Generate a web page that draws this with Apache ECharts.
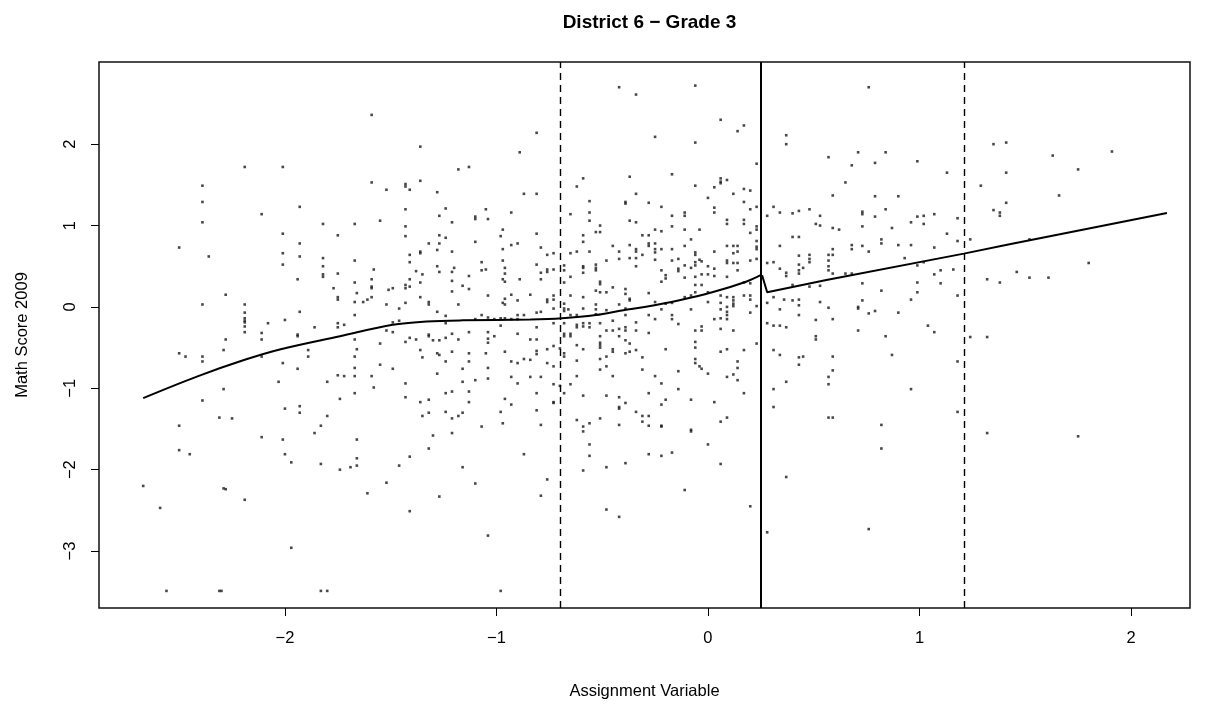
<!DOCTYPE html>
<html>
<head>
<meta charset="utf-8">
<script src="https://cdn.jsdelivr.net/npm/echarts@6.0.0/dist/echarts.min.js"></script>
<style>
html,body{margin:0;padding:0;background:#fff;}
#chart{width:1205px;height:710px;}
</style>
</head>
<body>
<div id="chart"></div>
<script>
// ---- Data ----
const chartTitle = "District 6 \u2212 Grade 3";
const xTitle = "Assignment Variable";
const yTitle = "Math Score 2009";
const xTicks = [-2, -1, 0, 1, 2];
const yTicks = [-3, -2, -1, 0, 1, 2];
const cutoff = 0.254;
const bandEdges = [-0.700, 1.209];

// scatter points [assignment, score]
const pointsFarLeft = [[-2.19,1.72],[-2.39,1.49],[-2.39,1.29],[-2.11,1.14],[-2.39,1.04],[-2.50,0.73],[-2.36,0.62],[-2.28,0.15],[-2.39,0.03],[-2.19,0.03],[-2.19,-0.07],[-2.19,-0.14],[-2.19,-0.17],[-2.19,-0.19],[-2.19,-0.24],[-2.19,-0.31],[-2.08,-0.20],[-2.11,-0.32],
[-2.28,-0.40],[-2.11,-0.40],[-2.50,-0.57],[-2.47,-0.61],[-2.39,-0.61],[-2.39,-0.67],[-2.29,-0.53],[-2.11,-0.61],[-2.03,-0.92],[-2.29,-1.01],[-2.39,-1.15],[-2.31,-1.36],[-2.25,-1.37],[-2.50,-1.46],[-2.11,-1.60],[-2.50,-1.76],[-2.45,-1.81],[-2.67,-2.20],[-2.29,-2.23],[-2.28,-2.24],[-2.19,-2.37],[-2.59,-2.47],[-2.56,-3.49],[-2.31,-3.49],[-2.30,-3.49]];

const pointsLeft = [[-1.59,2.36],[-1.36,1.97],[-2.01,1.72],[-1.18,1.69],[-1.59,1.53],[-1.52,1.44],[-1.43,1.51],[-1.43,1.48],[-1.41,1.44],[-1.36,1.55],[-1.28,1.41],[-1.93,1.23],[-1.43,1.20],[-1.24,1.21],[-1.27,1.12],[-1.82,1.02],[-1.67,1.02],[-1.55,1.06],[-1.21,1.04],[-2.01,0.90],[-1.75,0.88],[-1.43,0.99],[-1.43,0.87],[-1.27,0.88],[-1.24,0.85],[-1.93,0.78],[-1.32,0.78],[-1.27,0.78],[-2.01,0.66],[-1.93,0.62],[-1.82,0.60],[-1.41,0.64],[-1.36,0.68],[-1.36,0.66],[-1.28,0.70],[-1.21,0.68],[-2.01,0.52],[-1.82,0.50],[-1.67,0.57],[-1.41,0.55],[-1.28,0.50],[-1.82,0.40],[-1.82,0.37],[-1.75,0.41],[-1.58,0.46],[-1.38,0.44],[-1.35,0.40],[-1.27,0.43],[-1.21,0.43],[-1.20,0.48],[-1.94,0.34],[-1.67,0.30],[-1.59,0.34],[-1.41,0.34],[-1.36,0.30],[-1.21,0.32],[-1.77,0.23],[-1.59,0.25],[-1.59,0.23],[-1.51,0.21],[-1.49,0.23],[-1.43,0.27],[-1.43,0.23],[-1.41,0.25],[-1.66,0.17],[-1.21,0.19],[-1.75,0.12],[-1.75,0.09],[-1.67,0.06],[-1.63,0.06],[-1.61,0.09],[-1.59,0.12],[-1.36,0.12],[-1.32,0.06],[-1.32,0.03],[-1.52,0.03],[-1.43,0.05],[-1.18,0.03],[-1.93,-0.06],[-1.46,-0.02],[-1.28,-0.06],[-1.67,-0.10],[-1.24,-0.11],[-2.00,-0.16],[-1.86,-0.25],[-1.75,-0.20],[-1.75,-0.25],[-1.72,-0.22],[-1.49,-0.19],[-1.46,-0.17],[-1.52,-0.29],[-1.49,-0.31],[-1.24,-0.20],[-1.21,-0.33],[-1.94,-0.34],[-1.32,-0.34],
[-1.94,-0.36],[-1.67,-0.40],[-1.55,-0.45],[-1.43,-0.43],[-1.41,-0.38],[-1.38,-0.40],[-1.32,-0.36],[-1.30,-0.41],[-1.27,-0.41],[-1.24,-0.38],[-1.18,-0.40],[-1.89,-0.53],[-1.89,-0.61],[-1.66,-0.52],[-1.67,-0.61],[-1.36,-0.53],[-1.35,-0.62],[-1.28,-0.57],[-1.27,-0.59],[-1.21,-0.55],[-2.01,-0.69],[-1.94,-0.76],[-1.67,-0.75],[-1.55,-0.71],[-1.49,-0.76],[-1.24,-0.67],[-1.28,-0.82],[-1.80,-0.92],[-1.75,-0.84],[-1.72,-0.85],[-1.67,-0.85],[-1.59,-0.85],[-1.58,-0.99],[-1.43,-0.94],[-1.67,-1.06],[-1.24,-1.06],[-1.21,-1.04],[-1.43,-1.11],[-1.74,-1.13],[-1.36,-1.17],[-1.32,-1.14],[-2.00,-1.25],[-1.93,-1.22],[-1.93,-1.30],[-1.80,-1.34],[-1.35,-1.34],[-1.32,-1.30],[-1.24,-1.29],[-1.21,-1.37],[-1.18,-1.34],[-1.83,-1.46],[-1.86,-1.55],[-1.30,-1.58],[-1.21,-1.55],[-2.01,-1.63],[-1.66,-1.63],[-1.32,-1.74],[-2.00,-1.81],[-1.97,-1.91],[-1.83,-1.93],[-1.74,-2.00],[-1.69,-1.97],[-1.66,-1.95],[-1.66,-1.86],[-1.46,-1.95],[-1.41,-1.84],[-1.52,-2.16],[-1.61,-2.29],[-1.27,-2.33],[-1.41,-2.51],[-1.97,-2.96],[-1.83,-3.49],[-1.80,-3.49]];

const pointsMidLeft = [[-0.42,2.70],[-0.34,2.61],[-0.81,2.14],[-0.89,1.90],[-1.13,1.72],[-0.59,1.58],[-0.62,1.48],[-0.37,1.60],[-0.87,1.39],[-0.81,1.39],[-0.34,1.39],[-0.56,1.30],[-0.39,1.29],[-0.39,1.27],[-1.05,1.20],[-0.93,1.16],[-1.10,1.11],[-1.10,1.08],[-1.04,1.08],[-0.65,1.14],[-0.56,1.16],[-0.56,1.06],[-0.37,1.06],[-0.34,1.04],[-0.51,1.00],[-0.97,0.95],[-0.98,0.87],[-0.81,0.90],[-0.53,0.92],[-0.51,0.92],[-0.59,0.88],[-0.31,0.88],[-1.10,0.80],[-0.93,0.76],[-0.90,0.78],[-0.97,0.71],[-0.79,0.73],[-0.59,0.80],[-0.76,0.64],[-0.73,0.66],[-0.65,0.66],[-0.62,0.68],[-0.56,0.68],[-0.45,0.75],[-0.42,0.68],[-0.37,0.76],[-0.34,0.71],[-0.34,0.68],[-0.34,0.60],[-0.31,0.64],[-0.37,0.60],[-0.42,0.59],[-1.07,0.55],[-0.97,0.57],[-0.81,0.52],[-0.48,0.57],[-0.59,0.50],[-0.59,0.48],[-0.53,0.52],[-0.53,0.48],[-0.53,0.45],[-0.34,0.50],[-1.07,0.45],[-1.05,0.46],[-0.96,0.48],[-0.96,0.41],[-0.79,0.42],[-0.76,0.46],[-0.76,0.43],[-0.73,0.46],[-0.68,0.51],[-0.68,0.45],[-0.59,0.42],[-1.13,0.38],[-0.97,0.34],[-0.96,0.31],[-0.89,0.34],[-0.79,0.34],[-0.68,0.30],[-0.65,0.37],[-0.51,0.31],[-0.51,0.28],[-0.45,0.24],[-1.16,0.26],[-1.13,0.22],[-0.53,0.20],[-0.51,0.18],[-0.48,0.18],[-0.39,0.22],[-0.39,0.16],[-1.04,0.14],[-0.93,0.15],[-0.96,0.10],[-0.96,0.03],[-0.97,0.05],[-0.90,0.08],[-0.84,0.15],[-0.76,0.09],[-0.76,0.06],[-0.73,0.14],[-0.73,0.09],[-0.65,0.14],[-0.59,0.12],[-0.68,0.04],[-0.53,0.03],[-0.37,0.10],[-0.37,0.08],[-0.42,0.03],[-0.39,-0.02],[-0.81,-0.07],[-0.79,-0.06],[-0.73,-0.02],[-0.68,-0.02],[-0.68,-0.05],[-0.66,-0.03],[-0.59,-0.02],[-0.53,-0.03],[-0.48,-0.04],[-1.07,-0.10],[-1.04,-0.13],[-0.90,-0.10],[-0.87,-0.10],[-1.10,-0.15],[-1.01,-0.15],[-0.98,-0.14],[-0.96,-0.14],[-0.93,-0.15],[-0.90,-0.15],[-0.65,-0.10],[-0.62,-0.10],[-0.53,-0.09],[-0.45,-0.17],[-0.39,-0.10],[-0.73,-0.20],[-0.68,-0.20],[-0.62,-0.22],[-0.59,-0.20],[-0.56,-0.20],[-0.51,-0.20],[-0.34,-0.19],[-1.13,-0.31],[-1.04,-0.31],[-0.98,-0.23],[-0.81,-0.25],[-0.62,-0.25],[-0.59,-0.24],[-0.56,-0.25],[-0.48,-0.29],[-0.45,-0.29],[-0.42,-0.27],[-0.39,-0.25],[-0.39,-0.29],[-0.34,-0.29],[-0.68,-0.33],[-0.65,-0.33],[-0.90,-0.33],
[-1.04,-0.39],[-1.04,-0.44],[-1.01,-0.36],[-0.84,-0.40],[-0.81,-0.40],[-0.68,-0.36],[-0.65,-0.36],[-0.51,-0.36],[-0.42,-0.36],[-0.39,-0.41],[-0.37,-0.45],[-1.13,-0.57],[-1.05,-0.57],[-0.96,-0.55],[-0.81,-0.54],[-0.81,-0.58],[-0.76,-0.52],[-0.73,-0.48],[-0.70,-0.51],[-0.68,-0.57],[-0.68,-0.61],[-0.62,-0.47],[-0.59,-0.52],[-0.51,-0.44],[-0.51,-0.47],[-0.51,-0.50],[-0.45,-0.52],[-0.45,-0.55],[-0.39,-0.57],[-0.37,-0.55],[-0.34,-0.53],[-0.31,-0.62],[-0.48,-0.61],[-1.13,-0.67],[-0.93,-0.67],[-0.90,-0.69],[-0.87,-0.64],[-0.84,-0.65],[-0.76,-0.69],[-0.73,-0.73],[-0.62,-0.66],[-0.51,-0.64],[-0.48,-0.73],[-1.16,-0.76],[-1.04,-0.75],[-0.51,-0.77],[-0.31,-0.77],[-1.10,-0.90],[-1.04,-0.88],[-1.16,-0.92],[-0.93,-0.86],[-0.90,-0.94],[-0.84,-0.86],[-0.79,-0.86],[-0.73,-0.95],[-0.70,-0.97],[-0.65,-0.95],[-0.62,-0.85],[-0.45,-0.85],[-1.13,-1.04],[-0.81,-1.06],[-0.68,-1.06],[-0.59,-1.09],[-0.48,-1.09],[-0.42,-1.11],[-1.13,-1.17],[-0.96,-1.13],[-0.93,-1.20],[-0.73,-1.17],[-0.73,-1.18],[-0.42,-1.23],[-0.42,-1.25],[-0.39,-1.18],[-1.16,-1.30],[-0.98,-1.29],[-0.81,-1.27],[-0.34,-1.29],[-0.31,-1.34],[-0.62,-1.39],[-0.56,-1.43],[-0.51,-1.37],[-1.07,-1.47],[-0.97,-1.43],[-0.79,-1.45],[-0.59,-1.47],[-0.59,-1.53],[-0.42,-1.45],[-0.31,-1.41],[-0.56,-1.69],[-0.56,-1.83],[-0.87,-1.81],[-0.39,-1.92],[-1.16,-1.97],[-0.48,-1.97],[-0.59,-2.01],[-1.10,-2.17],[-0.76,-2.12],[-0.79,-2.32],[-0.48,-2.49],[-0.42,-2.58],[-1.04,-2.81],[-0.98,-3.49]];

const pointsCenter = [[-0.06,2.72],[0.06,2.30],[0.14,2.16],[0.17,2.23],[-0.25,2.09],[-0.06,2.02],[0.37,2.11],[0.37,2.00],[0.23,1.76],[-0.17,1.63],[-0.06,1.49],[0.03,1.47],[0.06,1.58],[0.06,1.54],[0.06,1.52],[0.09,1.56],[0.17,1.45],[0.20,1.43],[0.00,1.34],[0.12,1.39],[-0.28,1.28],[-0.22,1.23],[0.03,1.22],[0.03,1.16],[0.17,1.29],[0.20,1.20],[0.23,1.23],[0.31,1.23],[0.28,1.12],[0.34,1.16],[0.40,1.15],[0.43,1.18],[0.48,1.20],[0.53,1.12],[-0.17,1.12],[-0.11,1.16],[-0.11,1.12],[0.09,1.07],[0.09,1.02],[0.17,1.07],[0.17,1.02],[-0.17,0.99],[-0.11,0.95],[-0.25,0.95],[-0.22,0.93],[-0.04,0.95],[0.20,0.91],[0.23,0.99],[0.23,0.95],[0.51,1.02],[0.53,1.00],[-0.28,0.88],[-0.28,0.78],[-0.28,0.75],[-0.25,0.78],[-0.25,0.71],[-0.25,0.67],[-0.22,0.71],[-0.17,0.71],[-0.11,0.75],[-0.08,0.83],[0.03,0.68],[0.09,0.75],[0.12,0.75],[0.14,0.75],[0.12,0.66],[0.14,0.68],[0.23,0.81],[0.23,0.74],[0.23,0.71],[0.23,0.59],[0.40,0.86],[0.43,0.86],[0.34,0.75],[-0.25,0.58],[-0.17,0.57],[-0.06,0.67],[-0.06,0.64],[-0.14,0.59],[-0.11,0.51],[-0.06,0.55],[-0.06,0.51],[-0.04,0.58],[-0.03,0.56],[0.09,0.57],[0.09,0.54],[0.12,0.54],[0.14,0.54],[0.20,0.57],[0.28,0.54],[0.31,0.55],[0.43,0.63],[0.43,0.52],[0.48,0.64],[0.48,0.59],[0.48,0.55],[-0.22,0.45],[-0.14,0.47],[-0.14,0.44],[-0.08,0.48],[0.00,0.50],[0.03,0.47],[-0.03,0.40],[0.00,0.40],[0.14,0.45],[0.34,0.47],[0.37,0.42],[0.37,0.38],[0.43,0.45],[0.43,0.41],[0.45,0.48],[-0.20,0.39],[-0.20,0.35],[-0.22,0.31],[-0.11,0.36],[-0.06,0.37],[0.03,0.38],[0.09,0.37],[0.17,0.30],[0.20,0.29],[-0.06,0.27],[-0.03,0.27],[0.40,0.27],[0.48,0.25],[0.53,0.26],[-0.28,0.17],[-0.11,0.12],[-0.08,0.14],[-0.06,0.18],[0.00,0.18],[0.06,0.14],[0.09,0.12],[0.12,0.12],[0.12,0.08],[0.17,0.14],[0.20,0.14],[0.20,0.09],[0.31,0.12],[0.00,0.06],[0.06,0.05],[0.12,0.04],[0.12,0.01],[-0.25,0.06],[-0.20,0.04],[-0.17,0.05],[0.36,0.09],[0.40,0.08],[0.43,0.09],[0.43,0.02],[0.53,0.06],[-0.22,-0.03],[-0.08,-0.03],[0.06,-0.03],[0.09,0.00],[0.09,-0.06],[0.09,-0.10],[0.23,0.01],[0.28,0.05],[0.34,-0.03],[-0.28,-0.10],[-0.25,-0.15],[-0.17,-0.10],[-0.17,-0.15],[-0.14,-0.21],[0.03,-0.15],[0.06,-0.14],[0.09,-0.15],[0.20,-0.07],[0.43,-0.10],[0.51,-0.16],[0.28,-0.20],[0.31,-0.23],[0.34,-0.23],[0.37,-0.25],[-0.06,-0.29],[-0.03,-0.29],[-0.03,-0.24],[0.06,-0.27],[0.12,-0.29],[-0.28,-0.32],
[-0.06,-0.43],[-0.06,-0.50],[0.23,-0.45],[-0.20,-0.52],[0.06,-0.55],[0.09,-0.52],[0.17,-0.53],[0.31,-0.53],[0.34,-0.59],[0.43,-0.62],[0.45,-0.61],[0.43,-0.71],[0.51,-0.36],[0.51,-0.40],[-0.06,-0.64],[-0.06,-0.69],[-0.04,-0.73],[-0.03,-0.76],[0.00,-0.82],[0.14,-0.67],[0.14,-0.75],[-0.14,-0.79],[-0.25,-0.85],[-0.22,-0.94],[0.09,-0.86],[0.12,-0.83],[0.14,-0.90],[-0.28,-1.06],[-0.14,-1.01],[0.17,-1.06],[0.31,-1.01],[0.37,-0.92],[-0.22,-1.20],[-0.20,-1.14],[-0.08,-1.14],[0.03,-1.17],[0.31,-1.23],[-0.28,-1.34],[-0.28,-1.46],[-0.22,-1.46],[-0.22,-1.47],[-0.08,-1.51],[-0.08,-1.53],[0.06,-1.41],[0.09,-1.36],[0.00,-1.69],[-0.28,-1.81],[-0.22,-1.83],[-0.17,-1.79],[0.06,-1.93],[0.37,-2.09],[-0.11,-2.25],[0.20,-2.45],[0.28,-2.77]];

const pointsRight = [[0.76,2.70],[0.71,1.90],[0.84,1.90],[0.57,1.84],[0.68,1.74],[0.79,1.77],[0.99,1.79],[1.13,1.65],[1.35,2.00],[1.41,2.02],[1.41,1.65],[0.65,1.53],[1.29,1.49],[0.59,1.37],[0.79,1.36],[0.90,1.36],[1.41,1.28],[0.73,1.17],[0.73,1.14],[0.84,1.20],[0.79,1.11],[0.99,1.11],[1.02,1.12],[1.07,1.14],[1.18,1.09],[1.35,1.19],[1.38,1.16],[1.38,1.12],[0.96,1.04],[1.02,1.02],[0.59,0.97],[0.62,0.95],[0.73,0.99],[0.87,0.97],[1.13,0.90],[0.82,0.83],[0.82,0.78],[1.18,0.81],[1.24,0.83],[0.68,0.76],[0.68,0.71],[0.73,0.75],[0.76,0.68],[0.90,0.76],[0.96,0.76],[1.07,0.73],[0.59,0.71],[0.59,0.64],[0.57,0.64],[0.57,0.57],[0.57,0.50],[0.57,0.45],[0.93,0.60],[0.99,0.51],[1.02,0.55],[0.59,0.41],[0.65,0.41],[0.68,0.41],[1.10,0.45],[1.16,0.46],[1.07,0.40],[0.73,0.29],[0.99,0.30],[1.10,0.29],[1.32,0.34],[1.38,0.30],[0.82,0.20],[0.99,0.18],[1.18,0.14],[0.96,0.09],[0.73,0.08],[0.57,-0.01],[0.71,0.00],[0.71,-0.02],[0.76,-0.08],[0.79,-0.05],[0.90,-0.07],[0.59,-0.15],[1.04,-0.23],[1.07,-0.31],[0.71,-0.29],
[0.84,-0.36],[1.24,-0.37],[1.32,-0.37],[0.59,-0.61],[0.87,-0.59],[1.18,-0.67],[0.59,-0.78],[0.57,-0.86],[0.57,-0.95],[0.96,-1.01],[0.57,-1.36],[0.59,-1.36],[1.18,-1.29],[0.82,-1.45],[1.32,-1.55],[0.82,-1.74],[0.76,-2.73],
[1.63,1.86],[1.91,1.91],[1.75,1.69],[1.66,1.37],[1.52,0.83],[1.80,0.54],[1.46,0.43],[1.52,0.36],[1.61,0.36],[1.75,-1.59]];

// fitted curves on each side of the cutoff
const fitLeft = [[-2.67,-1.12],[-2.41,-0.85],[-2.19,-0.65],[-2.02,-0.52],[-1.74,-0.36],[-1.49,-0.22],[-1.33,-0.18],[-1.16,-0.165],[-0.84,-0.155],[-0.69,-0.14],[-0.53,-0.10],[-0.40,-0.04],[-0.30,0.00],[-0.14,0.08],[0.02,0.18],[0.18,0.31],[0.254,0.397]];
const fitRight = [[0.256,0.39],[0.28,0.18],[0.56,0.33],[1.21,0.655],[1.42,0.766],[2.17,1.155]];

// ---- Chart ----
const FONT = "'Liberation Sans', Arial, Helvetica, sans-serif";
const minus = v => String(v).replace('-', '\u2212');
const allPoints = [].concat(pointsFarLeft, pointsLeft, pointsMidLeft, pointsCenter, pointsRight);

const chart = echarts.init(document.getElementById('chart'), null, {renderer: 'canvas'});
chart.setOption({
  animation: false,
  backgroundColor: '#ffffff',
  title: {
    text: chartTitle,
    left: 644.5, top: 8, textAlign: 'center',
    textStyle: {fontFamily: FONT, fontSize: 19, fontWeight: 'bold', color: '#000'}
  },
  grid: {left: 99, top: 62, width: 1091, height: 546, show: true,
         borderColor: '#111', borderWidth: 1.5, backgroundColor: 'transparent'},
  xAxis: {
    type: 'value', min: -2.879, max: 2.279, position: 'bottom',
    name: xTitle, nameLocation: 'middle', nameGap: 75,
    nameTextStyle: {fontFamily: FONT, fontSize: 16.5, color: '#000'},
    axisLine: {show: false, onZero: false},
    splitLine: {show: false},
    axisTick: {show: true, length: 8, customValues: xTicks, lineStyle: {color: '#000', width: 1}},
    axisLabel: {customValues: xTicks, formatter: minus, margin: 22,
                fontFamily: FONT, fontSize: 16.5, color: '#000'}
  },
  yAxis: {
    type: 'value', min: -3.70, max: 3.01, position: 'left',
    name: yTitle, nameLocation: 'middle', nameGap: 68, nameRotate: 90,
    nameTextStyle: {fontFamily: FONT, fontSize: 16.5, color: '#000'},
    axisLine: {show: false, onZero: false},
    splitLine: {show: false},
    axisTick: {show: true, length: 8, customValues: yTicks, lineStyle: {color: '#000', width: 1}},
    axisLabel: {customValues: yTicks, formatter: minus, rotate: 90, margin: 20,
                fontFamily: FONT, fontSize: 16.5, color: '#000'}
  },
  series: [
    {
      type: 'scatter', data: allPoints, symbol: 'rect', symbolSize: 2.6,
      itemStyle: {color: '#1a1a1a'}, silent: true, z: 2
    },
    {
      type: 'line', data: fitLeft, showSymbol: false, symbol: 'none', smooth: 0.35,
      lineStyle: {color: '#000', width: 2}, silent: true, z: 4
    },
    {
      type: 'line', data: fitRight, showSymbol: false, symbol: 'none', smooth: false,
      lineStyle: {color: '#000', width: 2}, silent: true, z: 4,
      markLine: {
        silent: true, symbol: 'none', label: {show: false},
        data: [
          {xAxis: cutoff, lineStyle: {type: 'solid', color: '#000', width: 2}},
          {xAxis: bandEdges[0], lineStyle: {type: [7, 5], color: '#000', width: 1.4}},
          {xAxis: bandEdges[1], lineStyle: {type: [7, 5], color: '#000', width: 1.4}}
        ]
      }
    }
  ]
});
</script>
</body>
</html>
